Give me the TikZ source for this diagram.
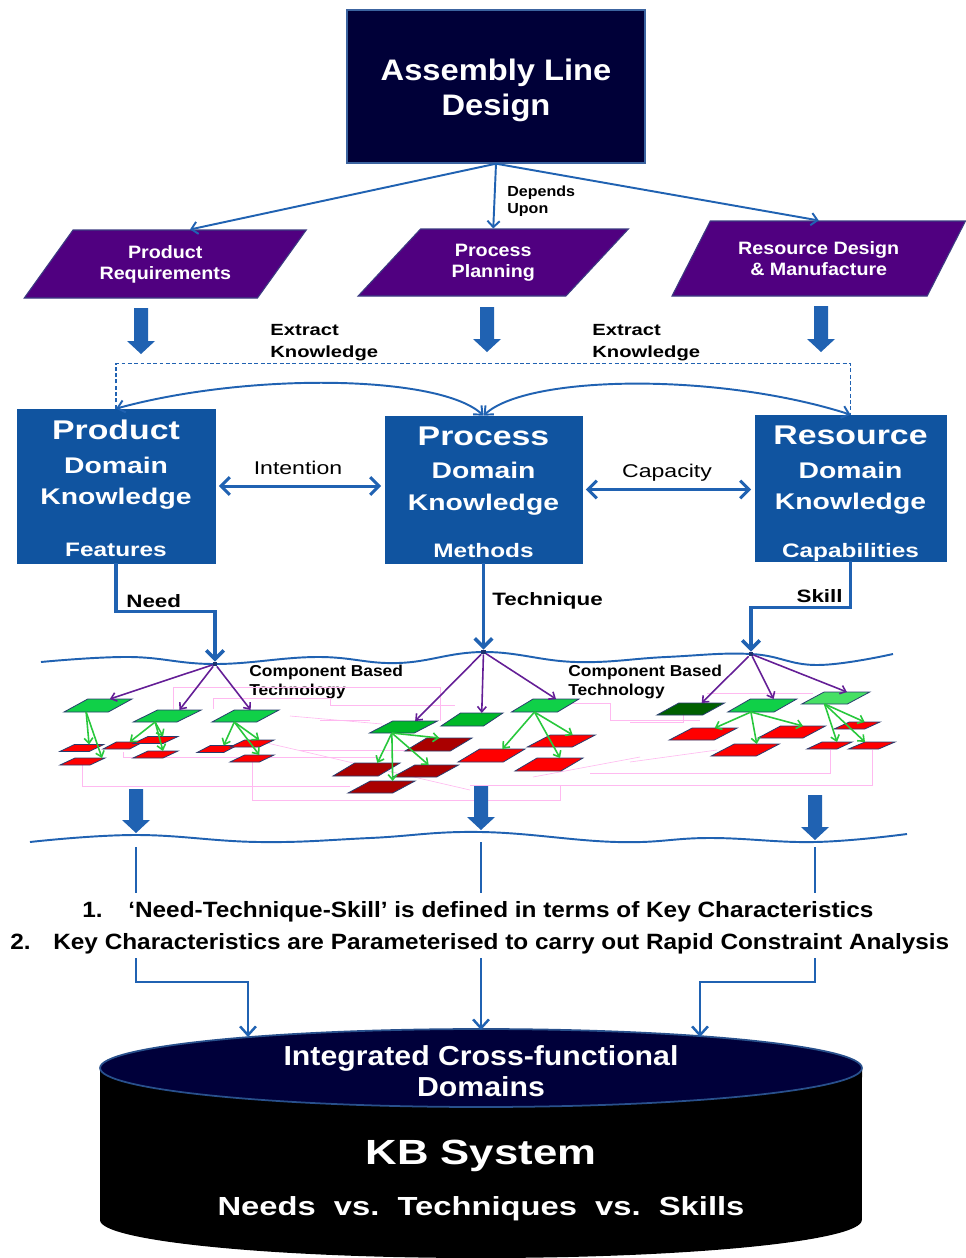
\documentclass[tikz,border=0pt]{standalone}
\usepackage{fontspec}
\setmainfont{Liberation Sans}[FakeStretch=1.25]
\newfontfamily\nfont{Liberation Sans}[FakeStretch=1.1]
\usetikzlibrary{arrows.meta,shapes.geometric,calc}
\newdimen\pxu \pxu=0.02cm

\definecolor{cnavy}{RGB}{0,0,56}
\definecolor{cnavyedge}{RGB}{60,100,160}
\definecolor{cplum}{RGB}{80,0,128}
\definecolor{cplumedge}{RGB}{60,60,130}
\definecolor{cboxblue}{RGB}{16,84,160}
\definecolor{clink}{RGB}{32,98,178}
\definecolor{cleaf}{RGB}{16,208,72}
\definecolor{cleafmid}{RGB}{0,184,40}
\definecolor{cleafdark}{RGB}{0,96,0}
\definecolor{cleaflight}{RGB}{70,224,100}
\definecolor{cpart}{RGB}{255,0,0}
\definecolor{cpartdark}{RGB}{170,0,0}
\definecolor{cplgedge}{RGB}{40,60,110}
\definecolor{ctwig}{RGB}{40,200,60}
\definecolor{cbranch}{RGB}{100,30,150}
\definecolor{cnet}{RGB}{255,185,240}
\definecolor{chub}{RGB}{30,50,110}
\definecolor{ccyltop}{RGB}{0,0,58}
\definecolor{ccyledge}{RGB}{40,80,140}

% small slanted part: name, options, centre x, centre y, edge length, height, slant
\newcommand\plg[7]{%
  \pgfmathsetmacro\plgang{atan(#6/#7)}%
  \pgfmathsetmacro\plgangr{180-\plgang}%
  \node[plgbase, #2, trapezium left angle=\plgang, trapezium right angle=\plgangr,
        minimum width=(#5+#7)*\pxu, minimum height=#6*\pxu] (#1) at (#3,#4) {};}

% labelled slanted box: name, centre x, centre y, edge length, height, slant, text
\newcommand\bigplg[7]{%
  \pgfmathsetmacro\plgang{atan(#5/#6)}%
  \pgfmathsetmacro\plgangr{180-\plgang}%
  \node[plgbig, trapezium left angle=\plgang, trapezium right angle=\plgangr,
        minimum width=(#4+#6)*\pxu, minimum height=#5*\pxu] (#1) at (#2,#3) {#7};}

% thick block arrow: x, top y, tip y
\newcommand\blk[3]{%
  \fill[clink] (#1-7,#2) -- (#1+7,#2) -- (#1+7,#3-13) -- (#1+14,#3-13) -- (#1,#3)
    -- (#1-14,#3-13) -- (#1-7,#3-13) -- cycle;}

\begin{document}
\begin{tikzpicture}[x=0.02cm, y=-0.02cm,
  topbox/.style={draw=cnavyedge, line width=0.8pt, fill=cnavy, inner sep=0},
  ttitle/.style={text=white, inner sep=0, font=\nfont\bfseries\fontsize{16.9pt}{19.8pt}\selectfont},
  plgbig/.style={trapezium, trapezium stretches=true, draw=cplumedge, line width=0.6pt,
    fill=cplum, text=white, align=center, inner sep=1pt,
    font=\nfont\bfseries\fontsize{10.2pt}{11.9pt}\selectfont},
  plgbase/.style={trapezium, trapezium stretches=true, draw=cplgedge, line width=0.45pt,
    inner sep=0.4pt, outer sep=0},
  dombox/.style={draw=cboxblue, fill=cboxblue, inner sep=0},
  tbig/.style={text=white, inner sep=0, font=\bfseries\fontsize{15.4pt}{18pt}\selectfont},
  tdom/.style={text=white, inner sep=0, font=\bfseries\fontsize{12.9pt}{15pt}\selectfont},
  tfeat/.style={text=white, inner sep=0, font=\bfseries\fontsize{11.1pt}{13pt}\selectfont},
  trel/.style={inner sep=0, font=\fontsize{10.5pt}{12pt}\selectfont},
  tlink/.style={inner sep=0, font=\bfseries\fontsize{10.2pt}{12pt}\selectfont},
  tdep/.style={inner sep=0, font=\nfont\bfseries\fontsize{8.3pt}{10pt}\selectfont},
  textr/.style={inner sep=0, font=\bfseries\fontsize{9.2pt}{11pt}\selectfont},
  tcbt/.style={inner sep=0, font=\nfont\bfseries\fontsize{9pt}{11pt}\selectfont},
  tlist/.style={inner sep=0, font=\nfont\bfseries\fontsize{12.6pt}{15pt}\selectfont},
  tcyl/.style={text=white, inner sep=0, font=\nfont\bfseries\fontsize{15.65pt}{18pt}\selectfont},
  tkb/.style={text=white, inner sep=0, font=\bfseries\fontsize{19.9pt}{23pt}\selectfont},
  tnvs/.style={text=white, inner sep=0, font=\bfseries\fontsize{14.9pt}{17pt}\selectfont},
  hub/.style={fill=chub, inner sep=0, minimum size=2.3pt},
  dep/.style={draw=clink, line width=1.1pt, -{Straight Barb[length=3.5pt,width=7pt]}},
  link/.style={draw=clink, line width=2pt, -{Straight Barb[length=5pt,width=10pt]}},
  rel/.style={draw=clink, line width=1.7pt,
    {Straight Barb[length=5pt,width=10pt]}-{Straight Barb[length=5pt,width=10pt]},
    shorten <=2pt, shorten >=2pt},
  arcl/.style={draw=clink, line width=1.1pt,
    {Straight Barb[length=4pt,width=7pt]}-{Straight Barb[length=4pt,width=7pt]}},
  dashline/.style={draw=clink, line width=0.9pt, dash pattern=on 2.2pt off 1.4pt},
  wave/.style={draw=clink, line width=1.1pt},
  feed/.style={draw=clink, line width=1.4pt},
  feedarr/.style={feed, -{Straight Barb[length=5pt,width=9pt]}},
  branchar/.style={draw=cbranch, line width=0.9pt, -{Straight Barb[length=3pt,width=5pt]}},
  twigar/.style={draw=ctwig, line width=0.9pt, -{Straight Barb[length=3pt,width=5pt]}},
  netline/.style={draw=cnet, line width=0.35pt}]

\fill[white] (0,0) rectangle (966,1258);
\useasboundingbox (0,0) rectangle (966,1258);

% ---------- top level ----------
\node[topbox, minimum width=298*\pxu, minimum height=153*\pxu] (ald) at (496,86.5) {};
\node[ttitle, anchor=base] (ald1) at (496,80) {Assembly Line};
\node[ttitle, anchor=base] (ald2) at (496,115) {Design};

\bigplg{preq}{165.25}{264}{223.5}{68}{59}{Product\\Requirements}
\bigplg{prp}{493.25}{262.5}{211.5}{67}{61.5}{Process\\Planning}
\bigplg{rdm}{818.75}{258.5}{235.5}{75}{58}{Resource Design\\\& Manufacture}

\draw[dep] (ald.south) -- (preq.top side);
\draw[dep] (ald.south) -- (prp.north);
\draw[dep] (ald.south) -- (rdm.north);
\node[tdep, anchor=base west] (dep1) at (507,196) {Depends};
\node[tdep, anchor=base west] (dep2) at (507,213) {Upon};

% ---------- knowledge extraction ----------
\blk{141}{308}{354}
\blk{487}{307}{352}
\blk{821}{306}{352}
\node[textr, anchor=base west] (ek1) at (270,335) {Extract};
\node[textr, anchor=base west] (ek2) at (270,357) {Knowledge};
\node[textr, anchor=base west] (ek3) at (592,335) {Extract};
\node[textr, anchor=base west] (ek4) at (592,357) {Knowledge};

% ---------- domain knowledge boxes ----------
\node[dombox, minimum width=198*\pxu, minimum height=154*\pxu] (pdk) at (116,486) {};
\node[dombox, minimum width=197*\pxu, minimum height=147*\pxu] (prk) at (483.5,489.5) {};
\node[dombox, minimum width=191*\pxu, minimum height=146*\pxu] (rdk) at (850.5,488) {};

\node[tbig, anchor=base] at (116,439) {Product};
\node[tdom, anchor=base] at (116,473) {Domain};
\node[tdom, anchor=base] at (116,504) {Knowledge};
\node[tfeat, anchor=base] at (116,556) {Features};

\node[tbig, anchor=base] at (483.5,445) {Process};
\node[tdom, anchor=base] at (483.5,478) {Domain};
\node[tdom, anchor=base] at (483.5,510) {Knowledge};
\node[tfeat, anchor=base] at (483.5,557) {Methods};

\node[tbig, anchor=base] at (850.5,444) {Resource};
\node[tdom, anchor=base] at (850.5,478) {Domain};
\node[tdom, anchor=base] at (850.5,509) {Knowledge};
\node[tfeat, anchor=base] at (850.5,557) {Capabilities};

\draw[dashline] (pdk.north) -- ++(0,-45) -| (rdk.north);
\draw[arcl] (pdk.north) .. controls (250,372) and (440,375) .. (prk.north);
\draw[arcl] (prk.north) .. controls (527,375) and (717,372) .. (rdk.north);

\draw[rel] (pdk.east) -- (prk.west |- pdk.east);
\draw[rel] (prk.east) -- (rdk.west |- prk.east);
\node[trel, anchor=base] (intn) at (298,474) {Intention};
\node[trel, anchor=base] (capy) at (667,477) {Capacity};

% ---------- component based technology layer ----------
\draw[wave] plot[smooth, tension=0.7] coordinates {(41,662) (130,657) (215,664) (317,657)
  (398,663) (483.5,652) (576,662) (666,657) (751,654) (817,665) (893,654)};
\node[hub] (hubL) at (215,664) {};
\node[hub] (hubM) at (483.5,652) {};
\node[hub] (hubR) at (751,654) {};

\draw[link] (pdk.south) -- ++(0,48) -| (hubL);
\draw[link] (prk.south) -- (hubM);
\draw[link] (rdk.south) -- ++(0,46) -| (hubR);
\node[tlink, anchor=base west] (need) at (126,607) {Need};
\node[tlink, anchor=base west] (tech) at (492,605) {Technique};
\node[tlink, anchor=base east] (skill) at (843,602) {Skill};

\node[tcbt, anchor=base west] (cb1) at (249,676) {Component Based};
\node[tcbt, anchor=base west] (cb2) at (249,695) {Technology};
\node[tcbt, anchor=base west] (cb3) at (568,676) {Component Based};
\node[tcbt, anchor=base west] (cb4) at (568,695) {Technology};

% faint interconnection network behind the parts
\draw[netline] (173,709) |- (440,687) -- (440,721);
\draw[netline] (213,709) |- (330,698) |- (455,705);
\draw[netline] (82,765) |- (350,786);
\draw[netline] (123,752) |- (380,757);
\draw[netline] (252,762) |- (560,800) -- (560,785);
\draw[netline] (267,743) -- (470,790);
\draw[netline] (290,716) -- (382,724);
\draw[netline] (560,703) -| (610,720) -- (700,720);
\draw[netline] (630,722) -| (683,715);
\draw[netline] (630,762) -- (717,750);
\draw[netline] (590,773) -| (830,750);
\draw[netline] (470,785) -| (872,750);
\draw[netline] (707,693) -- (813,693);
\draw[netline] (300,750) -- (437,750);
\draw[netline] (533,777) -- (640,757);
\draw[netline] (320,720) -- (370,720);

% product side parts
\plg{gA}{fill=cleaf}{98}{705.5}{53}{13}{15}
\plg{gB}{fill=cleaf}{167.25}{716}{53}{12}{15}
\plg{gC}{fill=cleaf}{245.5}{716}{55}{12}{12}
\plg{rA}{fill=cpart}{81.75}{748}{37}{7}{7}
\plg{rB}{fill=cpart}{82.5}{761.5}{38}{7}{7}
\plg{rC}{fill=cpart}{123}{745.5}{33}{7}{7}
\plg{rD}{fill=cpart}{155.5}{740}{38}{7}{7}
\plg{rE}{fill=cpart}{155.5}{754.5}{38}{7}{7}
\plg{rF}{fill=cpart}{217}{749}{33}{7}{7}
\plg{rG}{fill=cpart}{252}{743.5}{37}{7}{7}
\plg{rH}{fill=cpart}{252}{758.5}{37}{7}{7}

% process side parts
\plg{gP}{fill=cleafmid}{403.5}{727}{55}{12}{13}
\plg{gQ}{fill=cleafmid}{472}{719.5}{51}{13}{11}
\plg{gR}{fill=cleaf}{545.25}{705.5}{56}{13}{11.5}
\plg{dA}{fill=cpartdark}{438.5}{744.5}{55}{13}{12}
\plg{dB}{fill=cpartdark}{366.5}{769.5}{55}{13}{12}
\plg{dC}{fill=cpartdark}{425.75}{771}{53.5}{12}{12}
\plg{dD}{fill=cpartdark}{381.5}{787}{55}{12}{12}
\plg{eA}{fill=cpart}{491.5}{755.5}{55}{13}{12}
\plg{eB}{fill=cpart}{561.25}{741}{55.5}{12}{12.5}
\plg{eC}{fill=cpart}{549}{764.5}{56}{13}{12}

% resource side parts
\plg{sA}{fill=cleafdark}{690.75}{709}{56.5}{12}{11}
\plg{sB}{fill=cleaf}{762.25}{705.5}{56.5}{13}{12.5}
\plg{sC}{fill=cleaflight}{835.75}{698}{56.5}{12}{11.5}
\plg{tA}{fill=cpart}{703.25}{734}{55.5}{12}{12.5}
\plg{tB}{fill=cpart}{745.25}{750}{55.5}{12}{12.5}
\plg{tC}{fill=cpart}{791.75}{732}{55.5}{12}{12}
\plg{tD}{fill=cpart}{857}{725.5}{39}{7}{7}
\plg{tE}{fill=cpart}{829.5}{745.5}{38}{7}{7}
\plg{tF}{fill=cpart}{871.75}{745.5}{38}{7}{8.5}

\draw[branchar] (hubL) -- (gA.top side);
\draw[branchar] (hubL) -- (gB.top side);
\draw[branchar] (hubL) -- ($(gC.top side)+(-6,0)$);
\foreach \t in {gP,gQ,gR} \draw[branchar] (hubM) -- (\t.top side);
\foreach \t in {sA,sB,sC} \draw[branchar] (hubR) -- (\t.top side);

\draw[twigar] (gA.bottom side) -- (rA.top side);
\draw[twigar] (gA.bottom side) -- ($(rB.top side)+(12,0)$);
\draw[twigar] (gB.bottom side) -- (rC.top side);
\draw[twigar] (gB.bottom side) -- (rD.top side);
\draw[twigar] (gB.bottom side) -- (rE.top side);
\draw[twigar] (gC.bottom side) -- (rF.top side);
\draw[twigar] (gC.bottom side) -- (rG.top side);
\draw[twigar] (gC.bottom side) -- (rH.top side);

\draw[twigar] (gP.bottom side) -- ($(dA.top side)+(-10,0)$);
\draw[twigar] (gP.bottom side) -- (dB.top side);
\draw[twigar] (gP.bottom side) -- ($(dC.top side)+(-8,0)$);
\draw[twigar] (gP.bottom side) -- (dD.top side);
\draw[twigar] (gR.bottom side) -- (eA.top side);
\draw[twigar] (gR.bottom side) -- (eB.top side);
\draw[twigar] (gR.bottom side) -- (eC.top side);

\draw[twigar] (sB.bottom side) -- (tA.top side);
\draw[twigar] (sB.bottom side) -- (tB.top side);
\draw[twigar] (sB.bottom side) -- (tC.top side);
\draw[twigar] (sC.bottom side) -- (tD.top side);
\draw[twigar] (sC.bottom side) -- (tE.top side);
\draw[twigar] (sC.bottom side) -- (tF.top left corner);

% ---------- key characteristics ----------
\blk{136}{789}{833}
\blk{481}{786}{830}
\blk{815}{795}{840}
\draw[wave] plot[smooth, tension=0.7] coordinates {(30,842) (136,835) (259,842) (370,838)
  (481,832) (617,842) (710,838) (815,842) (907,834)};

\coordinate (w1) at (136,847);  \coordinate (t1) at (136,893);
\coordinate (w2) at (481,842);  \coordinate (t2) at (481,893);
\coordinate (w3) at (815,847);  \coordinate (t3) at (815,893);
\coordinate (b1) at (136,958);  \coordinate (b2) at (481,958);  \coordinate (b3) at (815,958);
\coordinate (k1) at (248,1037); \coordinate (k2) at (481,1030); \coordinate (k3) at (700,1037);

\draw[feed] (w1) -- (t1);
\draw[feed] (w2) -- (t2);
\draw[feed] (w3) -- (t3);

\node[tlist, anchor=base west] (n1) at (82,917) {1.};
\node[tlist, anchor=base west] (l1) at (128,917) {‘Need-Technique-Skill’ is defined in terms of Key Characteristics};
\node[tlist, anchor=base west] (n2) at (10,949) {2.};
\node[tlist, anchor=base west] (l2) at (53,949) {Key Characteristics are Parameterised to carry out Rapid Constraint Analysis};

% ---------- knowledge base ----------
\fill[black] (100,1068) -- (100,1220) arc[start angle=180, end angle=360, x radius=7.62cm, y radius=0.76cm]
  -- (862,1068) -- cycle;
\node[ellipse, draw=ccyledge, fill=ccyltop, line width=1pt, inner sep=0,
      minimum width=15.24cm, minimum height=1.56cm] (kbtop) at (481,1068) {};

\draw[feedarr] (b1) -- ++(0,24) -| (k1);
\draw[feedarr] (b2) -- (k2);
\draw[feedarr] (b3) -- ++(0,24) -| (k3);

\node[tcyl, anchor=base] (cy1) at (481,1065) {Integrated Cross-functional};
\node[tcyl, anchor=base] (cy2) at (481,1096) {Domains};
\node[tkb, anchor=base] (kb) at (481,1164) {KB System};
\node[tnvs, anchor=base] (nvs) at (481,1215) {Needs\ \ vs.\ \ Techniques\ \ vs.\ \ Skills};

\end{tikzpicture}
\end{document}
